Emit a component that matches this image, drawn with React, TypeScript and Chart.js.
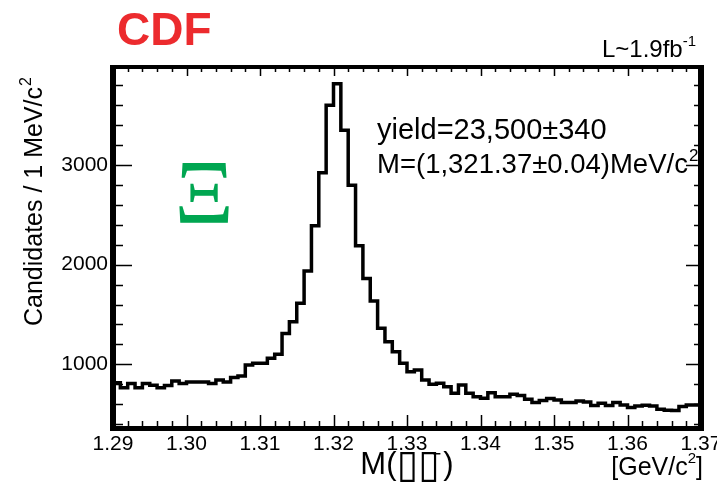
import React, { useEffect, useRef } from "react";
import { Chart, registerables } from "chart.js";

Chart.register(...registerables);

// ---- data ----
const X_MIN = 1.29;
const X_MAX = 1.37;
const BIN_WIDTH = 0.001; // 1 MeV/c^2 bins
const Y_MIN = 360;
const Y_MAX = 3985;

// candidates per 1 MeV bin, from 1.290 to 1.370 GeV/c^2
const COUNTS = [
  815, 815, 765, 808, 765, 808, 790, 765, 786, 832,
  808, 822, 822, 822, 808, 842, 822, 866, 883, 993,
  1010, 1010, 1060, 1100, 1310, 1427, 1612, 1936, 2390, 2922,
  3601, 3818, 3350, 2798, 2190, 1862, 1635, 1361, 1227, 1126,
  1010, 926, 943, 843, 799, 809, 775, 709, 792, 709,
  675, 659, 715, 675, 675, 699, 686, 649, 615, 635,
  655, 642, 615, 615, 632, 622, 585, 609, 585, 615,
  592, 565, 582, 589, 582, 549, 539, 535, 575, 590,
];

const X_TICKS = [1.29, 1.3, 1.31, 1.32, 1.33, 1.34, 1.35, 1.36, 1.37];
const Y_TICKS = [1000, 2000, 3000];
const X_MINOR_STEP = 0.002;
const Y_MINOR_STEP = 200;

const TITLE = "CDF";
const LUMI = "L~1.9fb";
const LUMI_SUP = "-1";
const YIELD_TEXT = "yield=23,500±340";
const MASS_TEXT = "M=(1,321.37±0.04)MeV/c";
const PARTICLE = "Ξ";
const Y_TITLE = "Candidates / 1 MeV/c";
const X_TITLE_A = "M(";
const X_TITLE_B = "▯▯";
const X_TITLE_C = ")";
const X_UNIT = "[GeV/c";

const SANS = "'Liberation Sans', Arial, Helvetica, sans-serif";

const overlayPlugin = {
  id: "rootStyle",
  afterDatasetsDraw(chart: any) {
    const ctx = chart.ctx;
    const { left, right, top, bottom } = chart.chartArea;
    const xs = chart.scales.x;
    const ys = chart.scales.y;
    ctx.save();
    ctx.strokeStyle = "#000";
    ctx.lineWidth = 1.5;
    // x ticks (bottom and top)
    const nx = Math.round((X_MAX - X_MIN) / X_MINOR_STEP);
    for (let i = 0; i <= nx; i++) {
      const v = X_MIN + i * X_MINOR_STEP;
      const px = Math.round(xs.getPixelForValue(v)) + 0.5;
      const major = i % 5 === 0;
      ctx.beginPath();
      ctx.moveTo(px, bottom);
      ctx.lineTo(px, bottom - (major ? 13 : 7));
      ctx.moveTo(px, top);
      ctx.lineTo(px, top + (major ? 9 : 5));
      ctx.stroke();
    }
    // y ticks (left and right)
    const startY = Math.ceil(Y_MIN / Y_MINOR_STEP) * Y_MINOR_STEP;
    for (let v = startY; v <= Y_MAX; v += Y_MINOR_STEP) {
      const py = Math.round(ys.getPixelForValue(v)) + 0.5;
      const major = v % 1000 === 0;
      ctx.beginPath();
      ctx.moveTo(left, py);
      ctx.lineTo(left + (major ? 19 : 10), py);
      ctx.moveTo(right, py);
      ctx.lineTo(right - (major ? 15 : 7), py);
      ctx.stroke();
    }
    // thick frame
    ctx.fillStyle = "#000";
    ctx.fillRect(left - 3, top - 2, 6, bottom - top + 5);
    ctx.fillRect(right - 3, top - 2, 6, bottom - top + 5);
    ctx.fillRect(left - 3, top - 2, right - left + 6, 4);
    ctx.fillRect(left - 3, bottom - 2, right - left + 6, 5);

    // texts
    ctx.textBaseline = "alphabetic";
    ctx.textAlign = "left";
    ctx.fillStyle = "#EC2B2E";
    ctx.font = `bold 46px ${SANS}`;
    ctx.fillText(TITLE, 117, 45);

    ctx.fillStyle = "#000";
    ctx.font = `15px ${SANS}`;
    const supW = ctx.measureText(LUMI_SUP).width;
    ctx.font = `24px ${SANS}`;
    const lumiW = ctx.measureText(LUMI).width;
    const lumiRight = 696;
    ctx.fillText(LUMI, lumiRight - supW - lumiW, 57);
    ctx.font = `15px ${SANS}`;
    ctx.fillText(LUMI_SUP, lumiRight - supW, 46);

    ctx.font = `29px ${SANS}`;
    ctx.fillText(YIELD_TEXT, 377, 139);
    ctx.font = `27.5px ${SANS}`;
    ctx.fillText(MASS_TEXT, 377, 173);
    const mw = ctx.measureText(MASS_TEXT).width;
    ctx.font = `17px ${SANS}`;
    ctx.fillText("2", 377 + mw + 1, 161);

    // particle label
    ctx.fillStyle = "#00A651";
    ctx.font = `92px 'Liberation Serif', 'Times New Roman', serif`;
    ctx.textAlign = "center";
    ctx.fillText(PARTICLE, 204, 223);

    // y title
    ctx.fillStyle = "#000";
    ctx.save();
    ctx.translate(42, 326);
    ctx.rotate(-Math.PI / 2);
    ctx.textAlign = "left";
    ctx.font = `25px ${SANS}`;
    ctx.fillText(Y_TITLE, 0, 0);
    const yw = ctx.measureText(Y_TITLE).width;
    ctx.font = `16px ${SANS}`;
    ctx.fillText("2", yw + 1, -11);
    ctx.restore();

    // x title
    ctx.textAlign = "left";
    ctx.font = `31px ${SANS}`;
    const t1w = ctx.measureText(X_TITLE_A).width;
    const cw = ctx.measureText(X_TITLE_C).width;
    ctx.font = `39px 'DejaVu Sans'`;
    const bw = ctx.measureText(X_TITLE_B).width;
    const total = t1w + bw + 4 + cw;
    let cx = (left + right) / 2 - total / 2;
    ctx.font = `31px ${SANS}`;
    ctx.fillText(X_TITLE_A, cx, 474);
    cx += t1w;
    ctx.font = `39px 'DejaVu Sans'`;
    ctx.fillText(X_TITLE_B, cx, 477);
    cx += bw;
    ctx.fillRect(cx - 6, 453, 7, 1.5);
    cx += 4;
    ctx.font = `31px ${SANS}`;
    ctx.fillText(X_TITLE_C, cx, 474);

    // x unit
    ctx.font = `25px ${SANS}`;
    const uw = ctx.measureText(X_UNIT).width;
    const bracketW = ctx.measureText("]").width;
    ctx.font = `15px ${SANS}`;
    const twoW = ctx.measureText("2").width;
    const ux = 703 - bracketW - twoW - uw;
    ctx.font = `25px ${SANS}`;
    ctx.fillText(X_UNIT, ux, 475);
    ctx.fillText("]", ux + uw + twoW, 475);
    ctx.font = `15px ${SANS}`;
    ctx.fillText("2", ux + uw, 463);
    ctx.restore();
  },
};

export default function App() {
  const ref = useRef<HTMLCanvasElement | null>(null);
  useEffect(() => {
    const canvas = ref.current;
    if (!canvas) return;
    const points = COUNTS.map((c, i) => ({ x: X_MIN + i * BIN_WIDTH, y: c }));
    points.push({ x: X_MAX, y: COUNTS[COUNTS.length - 1] });
    const chart = new Chart(canvas, {
      type: "line",
      data: {
        datasets: [
          {
            data: points,
            stepped: "after",
            borderColor: "#000",
            borderWidth: 3.5,
            pointRadius: 0,
            fill: false,
          },
        ],
      },
      options: {
        animation: false,
        responsive: false,
        devicePixelRatio: 1,
        layout: { padding: { top: 67, right: 16, left: 0, bottom: 0 } },
        plugins: { legend: { display: false }, tooltip: { enabled: false } },
        scales: {
          x: {
            type: "linear",
            min: X_MIN,
            max: X_MAX,
            grid: { display: false, drawTicks: false },
            border: { display: false },
            afterBuildTicks: (s: any) => {
              s.ticks = X_TICKS.map((v) => ({ value: v }));
            },
            afterFit: (s: any) => {
              s.height = 60;
              s.paddingLeft = 0;
              s.paddingRight = 0;
            },
            ticks: {
              autoSkip: false,
              maxRotation: 0,
              padding: 4,
              color: "#000",
              font: { family: SANS, size: 21 },
              callback: (v: any) => Number(v).toFixed(2),
            },
          },
          y: {
            type: "linear",
            min: Y_MIN,
            max: Y_MAX,
            grid: { display: false, drawTicks: false },
            border: { display: false },
            afterBuildTicks: (s: any) => {
              s.ticks = Y_TICKS.map((v) => ({ value: v }));
            },
            afterFit: (s: any) => {
              s.width = 113;
            },
            ticks: {
              padding: 5,
              color: "#000",
              font: { family: SANS, size: 21 },
              callback: (v: any) => String(v),
            },
          },
        },
      },
      plugins: [overlayPlugin],
    } as any);
    return () => chart.destroy();
  }, []);
  return (
    <canvas
      ref={ref}
      width={717}
      height={488}
      style={{ position: "absolute", left: 0, top: 0, display: "block" }}
    />
  );
}
